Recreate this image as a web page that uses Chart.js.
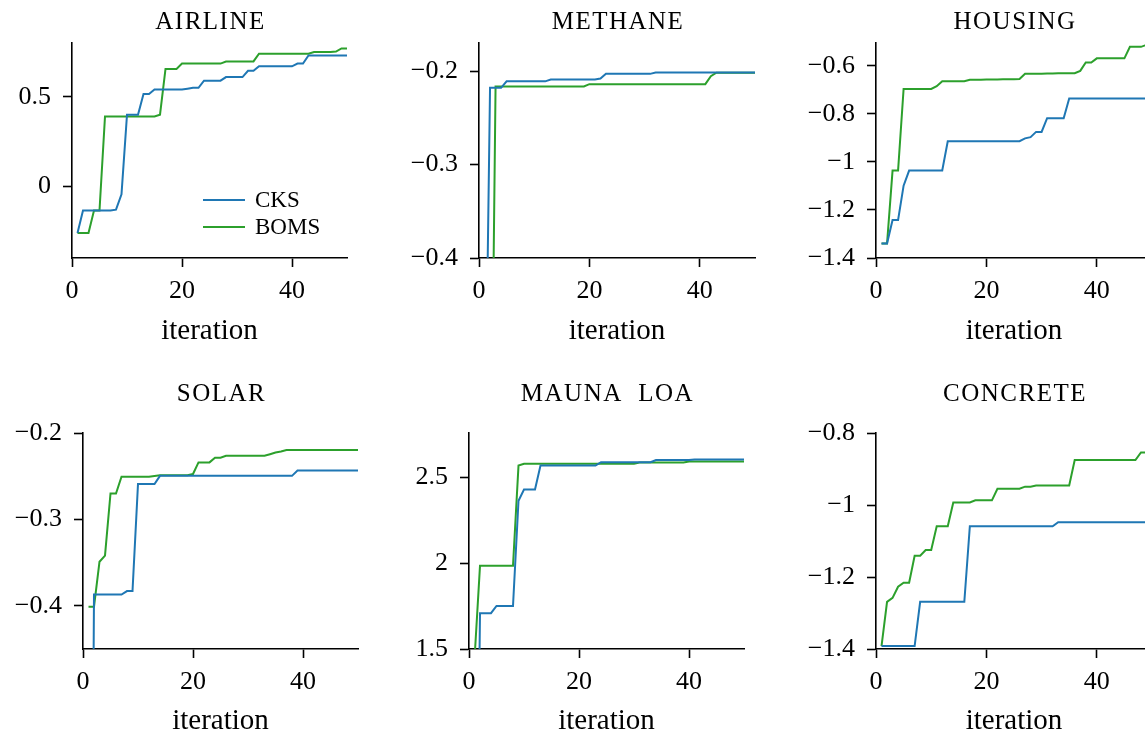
<!DOCTYPE html>
<html>
<head>
<meta charset="utf-8">
<script src="https://cdn.jsdelivr.net/npm/chart.js@4.4.1/dist/chart.umd.min.js"></script>
<style>
  html, body { margin: 0; padding: 0; background: #fff; }
  body { width: 1145px; height: 732px; overflow: hidden; position: relative; }
  .panel { position: absolute; }
</style>
</head>
<body>
<div class="panel" style="left:0px;top:0px"><canvas id="airline" width="357" height="366"></canvas></div>
<div class="panel" style="left:407px;top:0px"><canvas id="methane" width="358" height="366"></canvas></div>
<div class="panel" style="left:804px;top:0px"><canvas id="housing" width="358" height="366"></canvas></div>
<div class="panel" style="left:11px;top:370px"><canvas id="solar" width="357" height="369"></canvas></div>
<div class="panel" style="left:397px;top:370px"><canvas id="maunaloa" width="357" height="369"></canvas></div>
<div class="panel" style="left:804px;top:370px"><canvas id="concrete" width="358" height="369"></canvas></div>
<script>
// x values (iterations) and x ticks shared by every panel
const iterations = [1, 2, 3, 4, 5, 6, 7, 8, 9, 10, 11, 12, 13, 14, 15, 16, 17, 18, 19, 20,
    21, 22, 23, 24, 25, 26, 27, 28, 29, 30, 31, 32, 33, 34, 35, 36, 37, 38, 39, 40,
    41, 42, 43, 44, 45, 46, 47, 48, 49, 50];
const xTicks = [0, 20, 40];
const seriesNames = ['CKS', 'BOMS'];

const airlineCks = [-0.26, -0.135, -0.135, -0.135, -0.135, -0.135, -0.135, -0.13, -0.045, 0.40,
    0.40, 0.40, 0.515, 0.515, 0.54, 0.54, 0.54, 0.54, 0.54, 0.54,
    0.545, 0.55, 0.55, 0.59, 0.59, 0.59, 0.59, 0.61, 0.61, 0.61,
    0.61, 0.645, 0.645, 0.67, 0.67, 0.67, 0.67, 0.67, 0.67, 0.67,
    0.685, 0.685, 0.73, 0.73, 0.73, 0.73, 0.73, 0.73, 0.73, 0.73];
const airlineBoms = [-0.26, -0.26, -0.26, -0.135, -0.135, 0.39, 0.39, 0.39, 0.39, 0.39,
    0.39, 0.39, 0.39, 0.39, 0.39, 0.40, 0.655, 0.655, 0.655, 0.685,
    0.685, 0.685, 0.685, 0.685, 0.685, 0.685, 0.685, 0.697, 0.697, 0.697,
    0.697, 0.697, 0.697, 0.74, 0.74, 0.74, 0.74, 0.74, 0.74, 0.74,
    0.74, 0.74, 0.74, 0.75, 0.75, 0.75, 0.75, 0.752, 0.77, 0.77];
const airlineYTicks = [0, 0.5];

const methaneCks = [-0.65, -0.218, -0.218, -0.218, -0.211, -0.211, -0.211, -0.211, -0.211, -0.211,
    -0.211, -0.211, -0.209, -0.209, -0.209, -0.209, -0.209, -0.209, -0.209, -0.209,
    -0.209, -0.208, -0.203, -0.203, -0.203, -0.203, -0.203, -0.203, -0.203, -0.203,
    -0.203, -0.2015, -0.2015, -0.2015, -0.2015, -0.2015, -0.2015, -0.2015, -0.2015, -0.2015,
    -0.2015, -0.2015, -0.2015, -0.2015, -0.2015, -0.2015, -0.2015, -0.2015, -0.2015, -0.2015];
const methaneBoms = [-0.75, -0.75, -0.2165, -0.2165, -0.2165, -0.2165, -0.2165, -0.2165, -0.2165, -0.2165,
    -0.2165, -0.2165, -0.2165, -0.2165, -0.2165, -0.2165, -0.2165, -0.2165, -0.2165, -0.214,
    -0.214, -0.214, -0.214, -0.214, -0.214, -0.214, -0.214, -0.214, -0.214, -0.214,
    -0.214, -0.214, -0.214, -0.214, -0.214, -0.214, -0.214, -0.214, -0.214, -0.214,
    -0.214, -0.2055, -0.2018, -0.2018, -0.2018, -0.2018, -0.2018, -0.2018, -0.2018, -0.2018];
const methaneYTicks = [-0.4, -0.3, -0.2];

const housingCks = [-1.34, -1.34, -1.242, -1.242, -1.099, -1.036, -1.036, -1.036, -1.036, -1.036,
    -1.036, -1.036, -0.914, -0.914, -0.914, -0.914, -0.914, -0.914, -0.914, -0.914,
    -0.914, -0.914, -0.914, -0.914, -0.914, -0.914, -0.902, -0.897, -0.875, -0.875,
    -0.818, -0.818, -0.818, -0.818, -0.736, -0.736, -0.736, -0.736, -0.736, -0.736,
    -0.736, -0.736, -0.736, -0.736, -0.736, -0.736, -0.736, -0.736, -0.736, -0.736];
const housingBoms = [-1.34, -1.34, -1.036, -1.036, -0.696, -0.696, -0.696, -0.696, -0.696, -0.696,
    -0.685, -0.664, -0.664, -0.664, -0.664, -0.664, -0.658, -0.658, -0.658, -0.657,
    -0.657, -0.657, -0.656, -0.656, -0.656, -0.655, -0.633, -0.633, -0.633, -0.633,
    -0.632, -0.632, -0.631, -0.631, -0.631, -0.631, -0.621, -0.586, -0.586, -0.569,
    -0.569, -0.569, -0.569, -0.569, -0.569, -0.521, -0.521, -0.521, -0.513, -0.51];
const housingYTicks = [-1.4, -1.2, -1, -0.8, -0.6];

const solarCks = [-1.4, -0.387, -0.387, -0.387, -0.387, -0.387, -0.387, -0.383, -0.383, -0.259,
    -0.259, -0.259, -0.259, -0.2496, -0.2496, -0.2496, -0.2496, -0.2496, -0.2496, -0.2496,
    -0.2496, -0.2496, -0.2496, -0.2496, -0.2496, -0.2496, -0.2496, -0.2496, -0.2496, -0.2496,
    -0.2496, -0.2496, -0.2496, -0.2496, -0.2496, -0.2496, -0.2496, -0.2496, -0.2434, -0.2434,
    -0.2434, -0.2434, -0.2434, -0.2434, -0.2434, -0.2434, -0.2434, -0.2434, -0.2434, -0.2434];
const solarBoms = [-0.401, -0.401, -0.349, -0.342, -0.27, -0.27, -0.2507, -0.2507, -0.2507, -0.2507,
    -0.2507, -0.2507, -0.2497, -0.249, -0.249, -0.249, -0.249, -0.249, -0.249, -0.2475,
    -0.234, -0.234, -0.234, -0.2287, -0.2287, -0.2264, -0.2264, -0.2264, -0.2264, -0.2264,
    -0.2264, -0.2264, -0.2264, -0.2245, -0.2225, -0.2215, -0.2197, -0.2197, -0.2197, -0.2197,
    -0.2197, -0.2197, -0.2197, -0.2197, -0.2197, -0.2197, -0.2197, -0.2197, -0.2197, -0.2197];
const solarYTicks = [-0.4, -0.3, -0.2];

const maunaCks = [-1.0, 1.709, 1.709, 1.709, 1.751, 1.751, 1.751, 1.751, 2.365, 2.43,
    2.43, 2.43, 2.57, 2.57, 2.57, 2.57, 2.57, 2.57, 2.57, 2.57,
    2.57, 2.57, 2.57, 2.59, 2.59, 2.59, 2.59, 2.59, 2.59, 2.59,
    2.59, 2.59, 2.59, 2.602, 2.602, 2.602, 2.602, 2.602, 2.602, 2.602,
    2.605, 2.605, 2.605, 2.605, 2.605, 2.605, 2.605, 2.605, 2.605, 2.605];
const maunaBoms = [1.44, 1.985, 1.985, 1.985, 1.985, 1.985, 1.985, 1.985, 2.57, 2.58,
    2.58, 2.58, 2.58, 2.58, 2.58, 2.58, 2.58, 2.58, 2.58, 2.58,
    2.58, 2.58, 2.58, 2.58, 2.58, 2.58, 2.58, 2.58, 2.58, 2.58,
    2.588, 2.588, 2.588, 2.588, 2.588, 2.588, 2.588, 2.588, 2.588, 2.594,
    2.594, 2.594, 2.594, 2.594, 2.594, 2.594, 2.594, 2.594, 2.594, 2.594];
const maunaYTicks = [1.5, 2, 2.5];

const concreteCks = [-1.392, -1.392, -1.392, -1.392, -1.392, -1.392, -1.392, -1.269, -1.269, -1.269,
    -1.269, -1.269, -1.269, -1.269, -1.269, -1.269, -1.059, -1.059, -1.059, -1.059,
    -1.059, -1.059, -1.059, -1.059, -1.059, -1.059, -1.059, -1.059, -1.059, -1.059,
    -1.059, -1.059, -1.048, -1.048, -1.048, -1.048, -1.048, -1.048, -1.048, -1.048,
    -1.048, -1.048, -1.048, -1.048, -1.048, -1.048, -1.048, -1.048, -1.048, -1.048];
const concreteBoms = [-1.392, -1.269, -1.258, -1.227, -1.216, -1.216, -1.141, -1.141, -1.125, -1.125,
    -1.059, -1.059, -1.059, -0.993, -0.993, -0.993, -0.993, -0.987, -0.987, -0.987,
    -0.987, -0.955, -0.955, -0.955, -0.955, -0.955, -0.949, -0.949, -0.946, -0.946,
    -0.946, -0.946, -0.946, -0.946, -0.946, -0.875, -0.875, -0.875, -0.875, -0.875,
    -0.875, -0.875, -0.875, -0.875, -0.875, -0.875, -0.875, -0.854, -0.854, -0.854];
const concreteYTicks = [-1.4, -1.2, -1, -0.8];

const BLUE = '#1f77b4';
const GREEN = '#2ca02c';
const SERIF = '"Liberation Serif", "Times New Roman", serif';

Chart.defaults.font.family = SERIF;
Chart.defaults.color = '#000';

// panel title drawn above the plot area, centred on it
const panelTitle = {
    id: 'panelTitle',
    afterDraw(chart, args, opts) {
        const { ctx, chartArea } = chart;
        ctx.save();
        ctx.font = '25px ' + SERIF;
        ctx.letterSpacing = '1.5px';
        ctx.fillStyle = '#000';
        ctx.textAlign = 'center';
        ctx.textBaseline = 'middle';
        ctx.fillText(opts.text, (chartArea.left + chartArea.right) / 2 + 1, opts.y);
        ctx.restore();
    }
};

// legend drawn inside the plot (only first panel)
const innerLegend = {
    id: 'innerLegend',
    afterDraw(chart, args, opts) {
        if (!opts.show) return;
        const { ctx, chartArea } = chart;
        ctx.save();
        ctx.font = '23px ' + SERIF;
        ctx.textBaseline = 'middle';
        chart.data.datasets.forEach((ds, i) => {
            const y = chartArea.top + 157 + i * 27;
            const x = chartArea.left + 131;
            ctx.strokeStyle = ds.borderColor;
            ctx.lineWidth = 2;
            ctx.beginPath();
            ctx.moveTo(x, y);
            ctx.lineTo(x + 42, y);
            ctx.stroke();
            ctx.fillStyle = '#000';
            ctx.fillText(ds.label, x + 52, y + 1);
        });
        ctx.restore();
    }
};

function fmt(v) {
    return v < 0 ? '\u2212' + Math.abs(v) : String(v);
}

function makePanel(id, title, cks, boms, yMin, yMax, yTicks, row, legend) {
    const top = row === 0 ? 43 : 63;
    const xHeight = row === 0 ? 108 : 90;
    const labelPad = row === 0 ? 17 : 0;
    const titleY = row === 0 ? 22.5 : 24.7;
    const ctx = document.getElementById(id).getContext('2d');
    return new Chart(ctx, {
        type: 'line',
        data: {
            datasets: [
                {
                    label: seriesNames[0],
                    data: iterations.map((x, i) => ({ x: x, y: cks[i] })),
                    borderColor: BLUE,
                    borderWidth: 2,
                    pointRadius: 0,
                    tension: 0
                },
                {
                    label: seriesNames[1],
                    data: iterations.map((x, i) => ({ x: x, y: boms[i] })),
                    borderColor: GREEN,
                    borderWidth: 2,
                    pointRadius: 0,
                    tension: 0
                }
            ]
        },
        options: {
            responsive: false,
            animation: false,
            layout: { padding: { top: top, right: 10, bottom: 0, left: 0 } },
            scales: {
                x: {
                    type: 'linear',
                    min: 0,
                    max: 50,
                    afterBuildTicks: s => { s.ticks = xTicks.map(v => ({ value: v })); },
                    afterFit: s => {
                        s.height = xHeight;
                        s.paddingLeft = 0; s.paddingRight = 0; s.paddingTop = 0; s.paddingBottom = 0;
                    },
                    ticks: { font: { size: 26 }, padding: 9, maxRotation: 0, callback: v => fmt(v) },
                    grid: { drawOnChartArea: false, tickLength: 9, tickWidth: 1.6, tickColor: '#000' },
                    border: { color: '#000', width: 1.6 },
                    title: { display: true, text: 'iteration', font: { size: 29 }, padding: { top: 0, bottom: labelPad } }
                },
                y: {
                    min: yMin,
                    max: yMax,
                    afterBuildTicks: s => { s.ticks = yTicks.map(v => ({ value: v })); },
                    afterFit: s => {
                        s.width = 72;
                        s.paddingLeft = 0; s.paddingRight = 0; s.paddingTop = 0; s.paddingBottom = 0;
                    },
                    ticks: { font: { size: 26 }, padding: 12, callback: v => fmt(v) },
                    grid: { drawOnChartArea: false, tickLength: 9, tickWidth: 1.6, tickColor: '#000' },
                    border: { color: '#000', width: 1.6 }
                }
            },
            plugins: {
                legend: { display: false },
                tooltip: { enabled: false },
                panelTitle: { text: title, y: titleY },
                innerLegend: { show: legend }
            }
        },
        plugins: [panelTitle, innerLegend]
    });
}

makePanel('airline', 'AIRLINE', airlineCks, airlineBoms, -0.4, 0.8, airlineYTicks, 0, true);
makePanel('methane', 'METHANE', methaneCks, methaneBoms, -0.4, -0.17, methaneYTicks, 0, false);
makePanel('housing', 'HOUSING', housingCks, housingBoms, -1.4, -0.505, housingYTicks, 0, false);
makePanel('solar', 'SOLAR', solarCks, solarBoms, -0.45, -0.2, solarYTicks, 1, false);
makePanel('maunaloa', 'MAUNA  LOA', maunaCks, maunaBoms, 1.5, 2.76, maunaYTicks, 1, false);
makePanel('concrete', 'CONCRETE', concreteCks, concreteBoms, -1.4, -0.8, concreteYTicks, 1, false);
</script>
</body>
</html>
